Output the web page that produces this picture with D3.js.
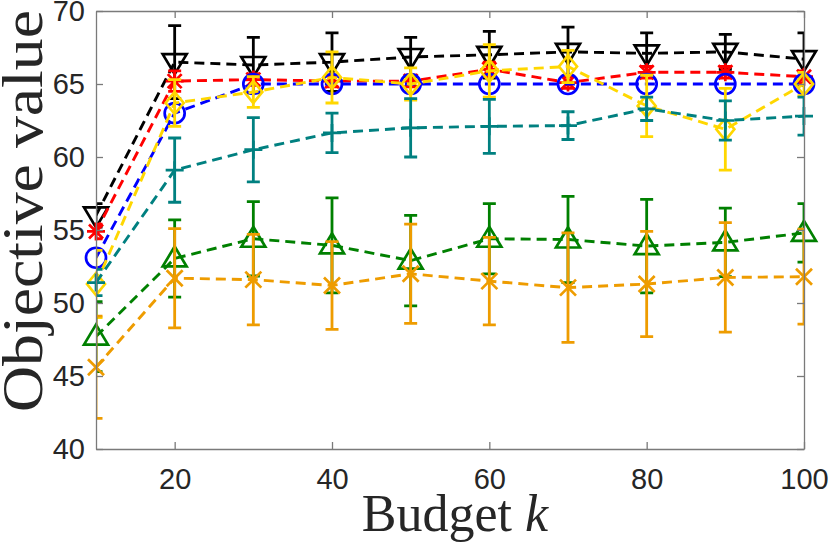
<!DOCTYPE html>
<html>
<head>
<meta charset="utf-8">
<script src="https://cdn.jsdelivr.net/npm/d3@7"></script>
<style>
    body { margin: 0; background: #fff; }
    #canvas { width: 831px; height: 543px; }
</style>
</head>
<body>
<div id="canvas"></div>
<script>
var budgets = [10, 20, 30, 40, 50, 60, 70, 80, 90, 100]

var blackMean = [56.0, 66.5, 66.3, 66.5, 66.85, 67.0, 67.2, 67.1, 67.2, 66.7]
var blackErr = [0.8, 2.5, 1.9, 2.0, 1.35, 1.6, 1.7, 1.4, 1.2, 1.8]
var redMean = [54.9, 65.2, 65.3, 65.2, 65.2, 66.0, 65.1, 65.8, 65.8, 65.5]
var redErr = [0.5, 0.7, 0.4, 0.4, 0.4, 0.5, 0.4, 0.4, 0.4, 0.4]
var blueMean = [53.1, 63.0, 65.0, 65.0, 65.0, 65.0, 65.0, 65.0, 65.0, 65.0]
var blueErr = [0, 0, 0, 0, 0, 0, 0, 0, 0, 0]
var yellowMean = [51.3, 63.7, 64.45, 65.45, 65.0, 65.9, 66.2, 63.5, 61.9, 65.0]
var yellowErr = [2.3, 1.6, 1.05, 1.75, 1.1, 1.8, 1.1, 2.1, 2.8, 0.8]
var tealMean = [51.4, 59.1, 60.5, 61.65, 62.0, 62.1, 62.15, 63.3, 62.5, 62.8]
var tealErr = [0.9, 2.2, 2.2, 1.35, 2.0, 1.85, 0.95, 0.8, 1.35, 1.3]
var greenMean = [47.7, 53.05, 54.4, 53.95, 52.9, 54.4, 54.35, 53.9, 54.15, 54.8]
var greenErr = [2.4, 2.65, 2.55, 3.25, 3.1, 2.4, 2.95, 3.2, 2.35, 2.0]
var orangeMean = [45.6, 51.7, 51.6, 51.2, 52.0, 51.5, 51.05, 51.3, 51.75, 51.8]
var orangeErr = [3.5, 3.4, 3.1, 3.0, 3.4, 3.0, 3.75, 3.6, 3.75, 3.25]

var xTicks = [20, 40, 60, 80, 100]
var yTicks = [40, 45, 50, 55, 60, 65, 70]

var width = 831
var height = 543
// plot box in pixels (named so they don't clash with window.top etc.)
var plotL = 96, plotR = 804, plotT = 11, plotB = 449

var series = [
    { mean: blackMean, err: blackErr, color: "#000000", marker: "tridown" },
    { mean: redMean, err: redErr, color: "#ff0000", marker: "star" },
    { mean: blueMean, err: blueErr, color: "#0000ff", marker: "circle" },
    { mean: yellowMean, err: yellowErr, color: "#ffd700", marker: "diamond" },
    { mean: tealMean, err: tealErr, color: "#008080", marker: "plus" },
    { mean: greenMean, err: greenErr, color: "#008000", marker: "triup" },
    { mean: orangeMean, err: orangeErr, color: "#ee9c00", marker: "cross" }
]

var svg = d3.select("#canvas")
    .append("svg")
    .attr("width", width)
    .attr("height", height)

var xScale = d3.scaleLinear().domain([10, 100]).range([plotL, plotR])
var yScale = d3.scaleLinear().domain([40, 70]).range([plotB, plotT])

svg.append("clipPath")
    .attr("id", "plotclip")
    .append("rect")
    .attr("x", plotL).attr("y", plotT)
    .attr("width", plotR - plotL).attr("height", plotB - plotT)

// marker path builders, centred on 0,0
function markerPath(type) {
    var p = d3.path()
    if (type == "circle") {
        p.arc(0, 0, 10, 0, 2 * Math.PI)
    } else if (type == "tridown") {
        p.moveTo(-12, -8); p.lineTo(12, -8); p.lineTo(0, 12); p.closePath()
    } else if (type == "triup") {
        p.moveTo(-12, 8); p.lineTo(12, 8); p.lineTo(0, -12); p.closePath()
    } else if (type == "diamond") {
        p.moveTo(0, -11); p.lineTo(9, 0); p.lineTo(0, 11); p.lineTo(-9, 0); p.closePath()
    } else if (type == "plus") {
        p.moveTo(-9, 0); p.lineTo(9, 0); p.moveTo(0, -9); p.lineTo(0, 9)
    } else if (type == "cross") {
        p.moveTo(-8, -8); p.lineTo(8, 8); p.moveTo(-8, 8); p.lineTo(8, -8)
    } else if (type == "star") {
        p.moveTo(-9, 0); p.lineTo(9, 0); p.moveTo(0, -9); p.lineTo(0, 9)
        p.moveTo(-7, -7); p.lineTo(7, 7); p.moveTo(-7, 7); p.lineTo(7, -7)
    }
    return p.toString()
}

var line = d3.line()
    .x(function (d) { return xScale(d.x) })
    .y(function (d) { return yScale(d.y) })

series.forEach(function (s) {
    var pts = budgets.map(function (b, i) {
        return { x: b, y: s.mean[i], e: s.err[i] }
    })
    var g = svg.append("g")

    var clipped = g.append("g").attr("clip-path", "url(#plotclip)")

    clipped.append("path")
        .datum(pts)
        .attr("d", line)
        .attr("fill", "none")
        .attr("stroke", s.color)
        .attr("stroke-width", 2.9)
        .attr("stroke-dasharray", "10,6")

    clipped.selectAll(".err")
        .data(pts.filter(function (d) { return d.e > 0 }))
        .enter()
        .append("path")
        .attr("d", function (d) {
            var x = xScale(d.x), y0 = yScale(d.y - d.e), y1 = yScale(d.y + d.e)
            return "M" + x + "," + y0 + "V" + y1 +
                "M" + (x - 6.5) + "," + y0 + "H" + (x + 6.5) +
                "M" + (x - 6.5) + "," + y1 + "H" + (x + 6.5)
        })
        .attr("fill", "none")
        .attr("stroke", s.color)
        .attr("stroke-width", 2.8)

    g.selectAll(".mk")
        .data(pts)
        .enter()
        .append("path")
        .attr("transform", function (d) { return `translate(${xScale(d.x)},${yScale(d.y)})` })
        .attr("d", markerPath(s.marker))
        .attr("fill", "none")
        .attr("stroke", s.color)
        .attr("stroke-width", 2.7)
})

// axes box with inward ticks
var axisColor = "#7a7a7a"

svg.append("g")
    .attr("transform", `translate(0,${plotB})`)
    .call(d3.axisBottom(xScale).tickValues(xTicks).tickSize(-7).tickSizeOuter(0).tickPadding(19))
svg.append("g")
    .attr("transform", `translate(0,${plotT})`)
    .call(d3.axisTop(xScale).tickValues(xTicks).tickSize(-7).tickSizeOuter(0).tickFormat(""))
svg.append("g")
    .attr("transform", `translate(${plotL},0)`)
    .call(d3.axisLeft(yScale).tickValues(yTicks).tickSize(-7).tickSizeOuter(0).tickPadding(11))
svg.append("g")
    .attr("transform", `translate(${plotR},0)`)
    .call(d3.axisRight(yScale).tickValues(yTicks).tickSize(-7).tickSizeOuter(0).tickFormat(""))

svg.selectAll(".domain, .tick line")
    .attr("stroke", axisColor)
    .attr("stroke-width", 1.3)

svg.selectAll(".tick text")
    .attr("fill", "#262626")
    .style("font-family", "'Liberation Sans', Arial, sans-serif")
    .style("font-size", "29px")

// axis labels
var xLabel = svg.append("text")
    .attr("x", (plotL + plotR) / 2 + 5)
    .attr("y", 531)
    .attr("text-anchor", "middle")
    .attr("fill", "#262626")
    .style("font-family", "'Liberation Serif', 'Times New Roman', serif")
    .style("font-size", "52px")
xLabel.append("tspan").text("Budget ")
xLabel.append("tspan").style("font-style", "italic").text("k")

svg.append("text")
    .attr("transform", "translate(42,211) rotate(-90)")
    .attr("text-anchor", "middle")
    .attr("fill", "#262626")
    .attr("textLength", 402)
    .attr("lengthAdjust", "spacingAndGlyphs")
    .style("font-family", "'Liberation Serif', 'Times New Roman', serif")
    .style("font-size", "58px")
    .text("Objective value")
</script>
</body>
</html>
